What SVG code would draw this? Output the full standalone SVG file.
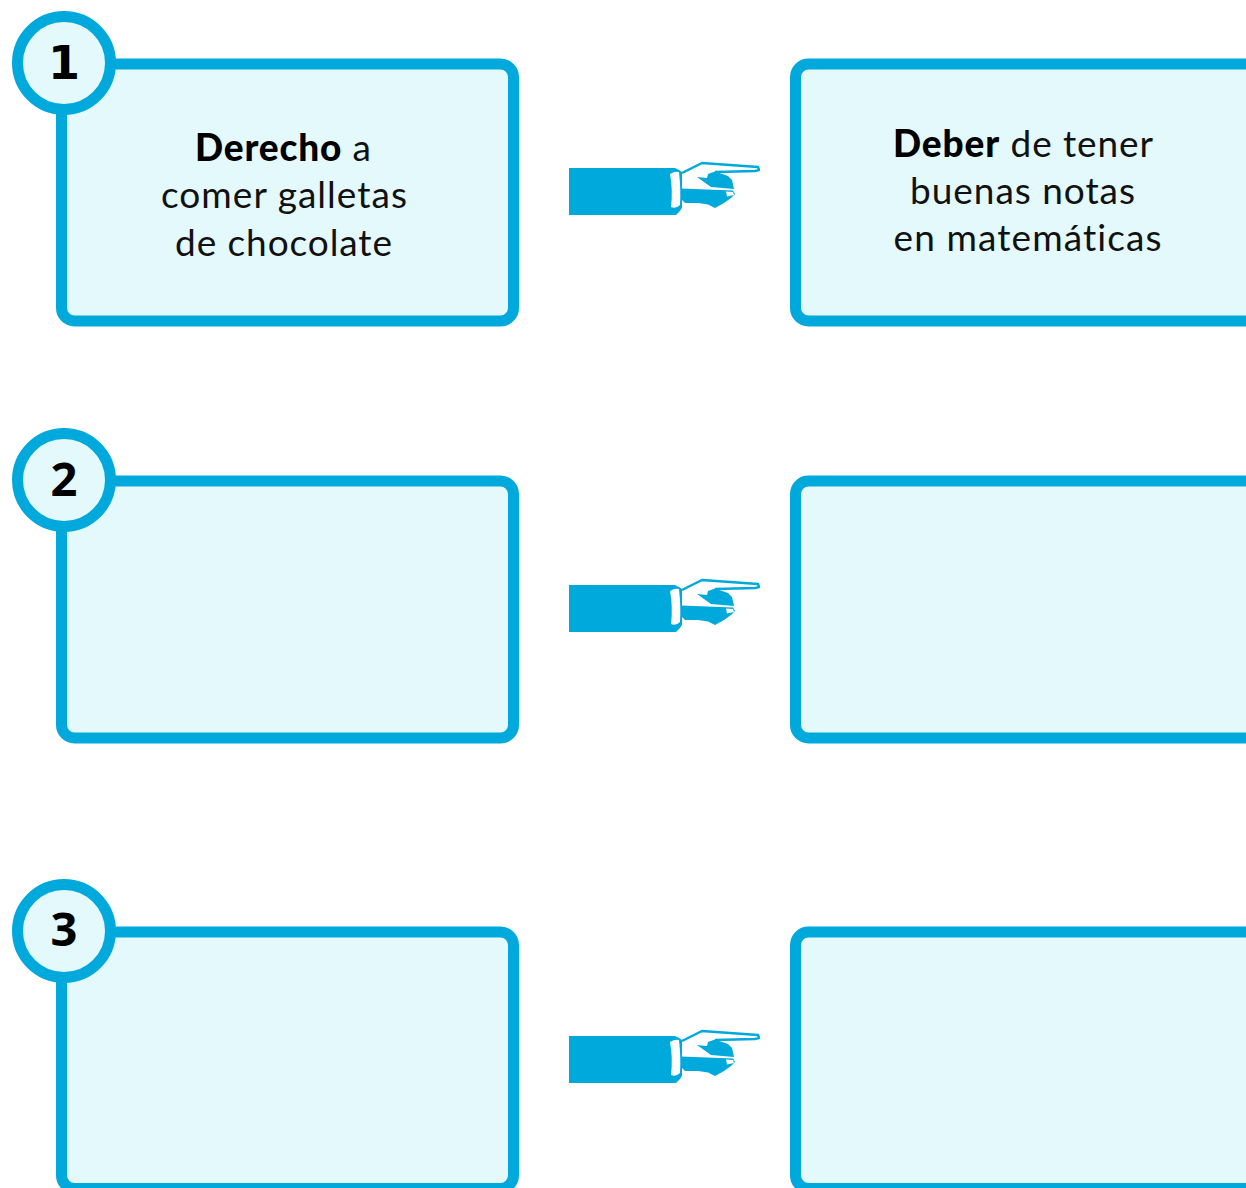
<svg xmlns="http://www.w3.org/2000/svg" xmlns:xlink="http://www.w3.org/1999/xlink" width="1246" height="1188" viewBox="0 0 1246 1188">
<style>
.box{fill:#e4f9fc;stroke:#00a9dc;stroke-width:11}
.badge{fill:#e4f9fc;stroke:#00a9dc;stroke-width:11}
.num{font-family:"Open Sans","DejaVu Sans",sans-serif;font-weight:700;font-size:47px;fill:#000;text-anchor:middle}
.one{font-family:"DejaVu Sans",sans-serif;font-size:46px}
.t{font-family:Lato,"Noto Sans",sans-serif;font-size:37px;fill:#111;text-anchor:middle;font-variant-ligatures:none}
.b{font-weight:900;fill:#000}
.blue{fill:#00a9dc}
.w{fill:#fff}
.line{fill:none;stroke:#00a9dc;stroke-width:2.5;stroke-linejoin:round}
</style>
<defs>
<g id="hand">
<rect class="blue" x="569" y="168" width="106" height="47"/>
<path class="blue" d="M675 168L679 170L682 172L682 208L680 211L676 215H675Z"/>
<path class="w" d="M670 174Q675 171 679 172Q681 190 680 205Q676 209 671 207Q673 190 670 174Z"/>
<path class="line" d="M682 173L702 163L758 167L759 170L755 171L715 172"/>
<path class="blue" d="M697 177L707 178L708 174L715 171.500L728 176L732 180L734 189L711 187L704 182Z"/>
<path class="blue" d="M681 188.500L733 190.500L735 194L731 198L724 203L715 208L708 204.500L698 203L685 203L681 199Z"/>
<path class="w" d="M726 191.500L733 192L734 195L727 196.500Z"/>
</g>
</defs>
<g id="connectors">
<use xlink:href="#hand" href="#hand"/>
<use xlink:href="#hand" href="#hand" y="417"/>
<use xlink:href="#hand" href="#hand" y="868"/>
</g>
<g id="node-left-1"><rect class="box" x="61.5" y="64" width="452" height="257" rx="13"/>
<text class="t" x="283" y="161" textLength="176" lengthAdjust="spacing"><tspan class="b">Derecho</tspan> a</text>
<text class="t" x="284" y="208" textLength="246" lengthAdjust="spacing">comer galletas</text>
<text class="t" x="283.500" y="256" textLength="217" lengthAdjust="spacing">de chocolate</text></g>
<g id="node-right-1"><rect class="box" x="795.500" y="64" width="470" height="257" rx="13"/>
<text class="t" x="1023" y="157" textLength="260" lengthAdjust="spacing"><tspan class="b">Deber</tspan> de tener</text>
<text class="t" x="1022.500" y="204" textLength="225" lengthAdjust="spacing">buenas notas</text>
<text class="t" x="1027.500" y="251" textLength="268" lengthAdjust="spacing">en matemáticas</text></g>
<g id="node-left-2"><rect class="box" x="61.5" y="481" width="452" height="257" rx="13"/></g>
<g id="node-right-2"><rect class="box" x="795.500" y="481" width="470" height="257" rx="13"/></g>
<g id="node-left-3"><rect class="box" x="61.5" y="932" width="452" height="256.500" rx="13"/></g>
<g id="node-right-3"><rect class="box" x="795.500" y="932" width="470" height="256.500" rx="13"/></g>
<g id="badge-1"><circle class="badge" cx="64" cy="63" r="46.500"/><text class="num one" x="64" y="79">1</text></g>
<g id="badge-2"><circle class="badge" cx="64" cy="480" r="46.500"/><text class="num" x="64" y="496">2</text></g>
<g id="badge-3"><circle class="badge" cx="64" cy="931" r="46.500"/><text class="num" x="64" y="946">3</text></g>
</svg>
